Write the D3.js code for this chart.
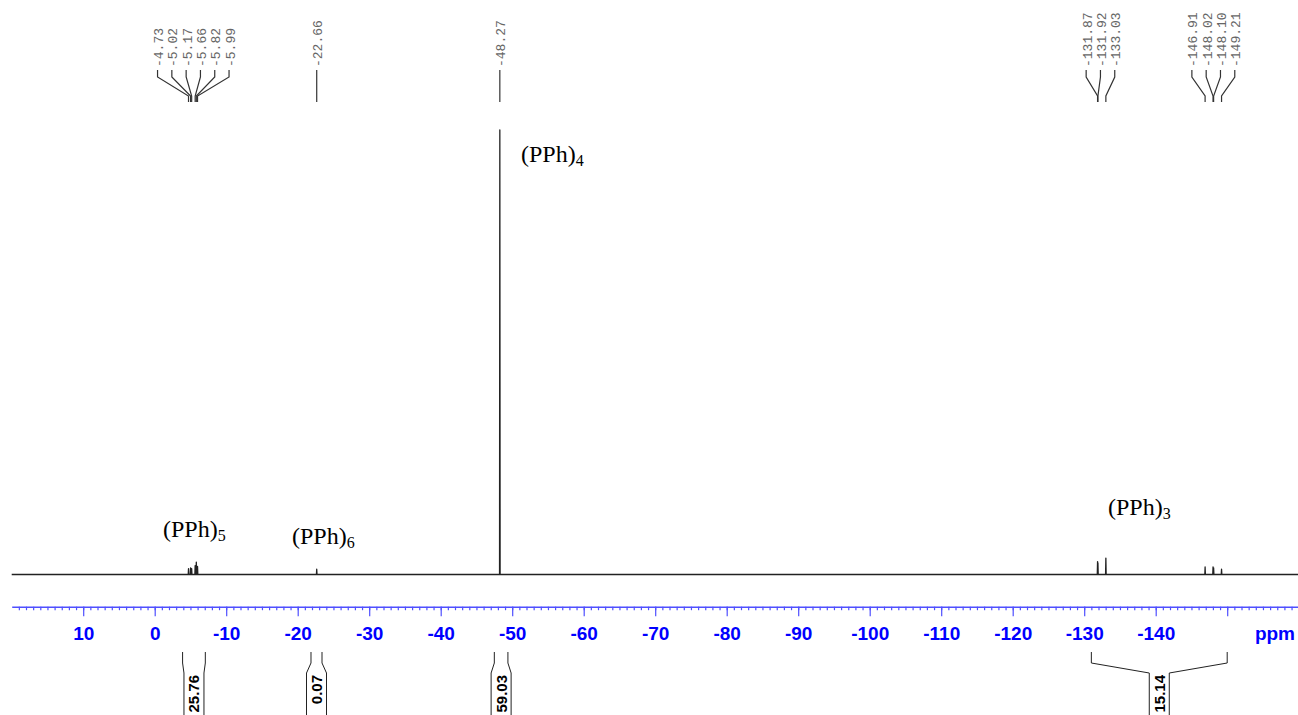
<!DOCTYPE html>
<html lang="en">
<head>
<meta charset="utf-8">
<title>31P NMR - (PPh)n rings</title>
<script src="https://d3js.org/d3.v7.min.js"></script>
<style>
body { margin: 0; background: #fff; }
svg { display: block; background: #fff; }
.axis .domain { stroke: #4f4fff; stroke-width: 1.6px; }
.axis line { stroke: #4f4fff; stroke-width: 1.2px; }
.axis text {
  font-family: "Liberation Sans", Arial, sans-serif;
  font-weight: bold;
  font-size: 19px;
  fill: #0000ff;
}
.peak-label {
  font-family: "Liberation Mono", "DejaVu Sans Mono", monospace;
  font-size: 13px;
  fill: #666;
}
.lead { fill: none; stroke: #333; stroke-width: 1.2px; }
.integral { fill: none; stroke: #222; stroke-width: 1px; }
.integral-val {
  font-family: "Liberation Sans", Arial, sans-serif;
  font-weight: bold;
  font-size: 15px;
  fill: #000;
}
.compound {
  font-family: "Liberation Serif", "Times New Roman", serif;
  font-size: 24px;
  fill: #000;
}
</style>
</head>
<body>
<svg width="1298" height="715"></svg>
<script>

// ---- data ----
var peakPpm    = [-4.73, -5.02, -5.17, -5.66, -5.82, -5.99, -22.66, -48.27,
                  -131.87, -131.92, -133.03, -146.91, -148.02, -148.10, -149.21];
var peakHeight = [1.3, 1.5, 1.3, 2.0, 2.8, 1.8, 1.2, 100,
                  2.9, 2.6, 3.7, 1.7, 1.7, 1.5, 1.2];
var peakGroup  = [0, 0, 0, 0, 0, 0, 1, 2, 3, 3, 3, 4, 4, 4, 4];

var integralFrom  = [-3.9, -21.86, -47.5, -131.0];
var integralTo    = [-7.08, -23.4, -49.4, -150.0];
var integralValue = ["25.76", "0.07", "59.03", "15.14"];

var majorTicks = [10, 0, -10, -20, -30, -40, -50, -60, -70, -80, -90, -100, -110, -120, -130, -140, -150];
var tickLabels = ["10", "0", "-10", "-20", "-30", "-40", "-50", "-60", "-70", "-80", "-90", "-100", "-110", "-120", "-130", "-140", ""];

var compoundNames = ["(PPh)", "(PPh)", "(PPh)", "(PPh)"];
var compoundSubs  = ["4", "5", "6", "3"];

// ---- layout ----
var width = 1298, height = 715;
var svg = d3.select("svg");

var x = d3.scaleLinear().domain([20, -160]).range([11.7, 1298.7]);
var y = d3.scaleLinear().domain([0, 100]).range([574.5, 130]);
var axisY = 606.7;

//////// SPECTRUM ////////
var order = d3.range(peakPpm.length).sort(function(a, b){ return peakPpm[b] - peakPpm[a]; });
var pts = [[20, 0]];
order.forEach(function(i){
  pts.push([peakPpm[i] + 0.04, 0]);
  pts.push([peakPpm[i], peakHeight[i]]);
  pts.push([peakPpm[i] - 0.04, 0]);
});
pts.push([-160, 0]);

svg.append("path")
  .attr("d", d3.line().x(function(d){ return x(d[0]); }).y(function(d){ return y(d[1]); })(pts))
  .attr("fill", "none")
  .attr("stroke", "#222")
  .attr("stroke-width", 1.3)
  .attr("stroke-linejoin", "round");

//////// AXIS ////////
var minorTicks = d3.range(19, -161, -1);
svg.append("g")
  .attr("class", "axis")
  .attr("transform", "translate(0," + axisY + ")")
  .call(d3.axisBottom(x).tickValues(minorTicks).tickSize(3.5).tickSizeOuter(0).tickFormat(""));

var major = svg.append("g")
  .attr("class", "axis")
  .attr("transform", "translate(0," + axisY + ")")
  .call(d3.axisBottom(x).tickValues(majorTicks).tickSize(9.5).tickSizeOuter(0)
        .tickFormat(function(d, i){ return tickLabels[i]; }));
major.select(".domain").remove();
major.selectAll("text").attr("y", 33.3).attr("dy", 0);

svg.append("text")
  .attr("x", 1295).attr("y", 640)
  .attr("text-anchor", "end")
  .style("font-family", "'Liberation Sans', Arial, sans-serif")
  .style("font-weight", "bold").style("font-size", "19px").style("fill", "#0000ff")
  .text("ppm");

//////// PEAK LABELS ////////
var groups = d3.group(d3.range(peakPpm.length), function(i){ return peakGroup[i]; });
var spacing = 14.3;
groups.forEach(function(idx){
  var centre = d3.mean(idx, function(i){ return x(peakPpm[i]); });
  idx.forEach(function(i, k){
    var lx = centre + (k - (idx.length - 1) / 2) * spacing;
    var px = x(peakPpm[i]);
    svg.append("path")
      .attr("class", "lead")
      .attr("d", "M" + lx + ",70V77L" + px + ",96V102");
    svg.append("text")
      .attr("class", "peak-label")
      .attr("transform", "translate(" + (lx + 1) + ",67) rotate(-90)")
      .attr("dy", "0.35em")
      .text(peakPpm[i].toFixed(2));
  });
});

//////// INTEGRALS ////////
integralValue.forEach(function(v, i){
  var x1 = x(integralFrom[i]), x2 = x(integralTo[i]);
  var c = (x1 + x2) / 2;
  svg.append("path").attr("class", "integral")
    .attr("d", "M" + x1 + ",652V663L" + (c - 10) + ",673V716");
  svg.append("path").attr("class", "integral")
    .attr("d", "M" + x2 + ",652V663L" + (c + 10) + ",673V716");
  svg.append("text")
    .attr("class", "integral-val")
    .attr("transform", "translate(" + c + ",675) rotate(-90)")
    .attr("text-anchor", "end")
    .attr("dy", "0.36em")
    .text(v);
});

//////// COMPOUND ANNOTATIONS ////////
var annotPos = [[521, 162], [163, 537], [292, 544], [1108, 515]];
compoundNames.forEach(function(n, i){
  var t = svg.append("text")
    .attr("class", "compound")
    .attr("x", annotPos[i][0]).attr("y", annotPos[i][1]);
  t.append("tspan").text(n);
  t.append("tspan").attr("dy", 4).style("font-size", "16px").text(compoundSubs[i]);
});

</script>
</body>
</html>
